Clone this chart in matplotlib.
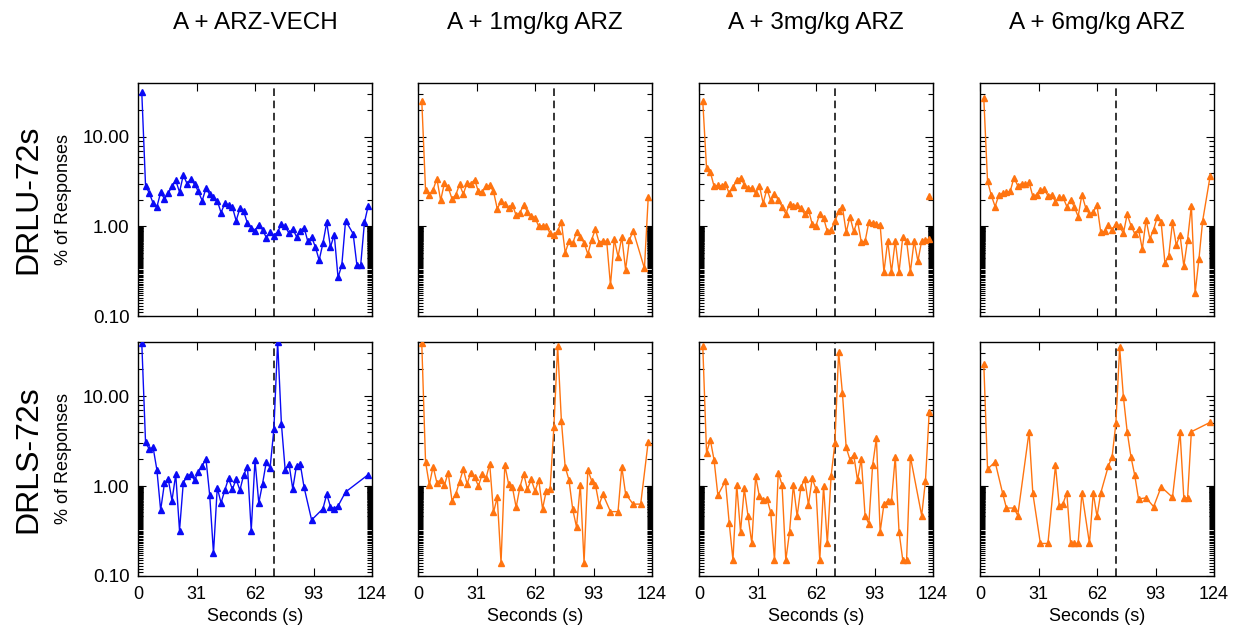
import numpy as np
import matplotlib.pyplot as plt
from matplotlib.ticker import FixedLocator, FormatStrFormatter, NullFormatter

plt.rcParams['font.family'] = ['Liberation Sans', 'DejaVu Sans']

# bins de 2 s
segundos = np.arange(2, 124, 2)

titulos = ["A + ARZ-VECH", "A + 1mg/kg ARZ", "A + 3mg/kg ARZ", "A + 6mg/kg ARZ"]
filas = ["DRLU-72s", "DRLS-72s"]
xticks = [0, 31, 62, 93, 124]
limite = 72

# % de respuestas, DRLU-72s
drlu_vech = [31.6, 2.85, 2.36, 1.82, 1.65, 2.40, 2.04, 2.34, 2.80, 3.27,
             2.42, 3.75, 3.00, 3.39, 2.95, 2.46, 1.94, 2.66, 2.28, 2.13,
             1.94, 1.43, 1.81, 1.75, 1.65, 1.16, 1.59, 1.47, 1.09, 0.97,
             0.90, 1.05, 0.92, 0.75, 0.86, 0.79, 0.87, 1.06, 1.00, 0.84,
             0.94, 0.77, 0.90, 0.97, 0.68, 0.76, 0.59, 0.42, 0.65, 1.11,
             0.59, 0.81, 0.27, 0.37, 1.16, None, 0.83, 0.37, 0.37, 1.11, 1.70]
drlu_1mg = [25.5, 2.53, 2.26, 2.57, 3.42, 1.95, 3.06, 2.73, 2.04, 2.24,
            2.95, 2.30, 3.06, 2.98, 3.33, 2.46, 2.42, 2.80, 2.88, 2.46,
            1.58, 1.90, 1.79, 1.59, 1.75, 1.33, 1.43, 1.73, 1.46, 1.32,
            1.25, 1.00, 1.02, 1.00, 0.84, 0.80, 0.90, 1.11, 0.51, 0.68,
            0.65, 0.86, 0.76, 0.66, 0.49, 0.71, 0.93, 0.66, 0.69, 0.68,
            0.22, 0.72, 0.46, 0.76, 0.33, 0.70, 0.90, None, None, 0.34, 2.11]
drlu_3mg = [24.9, 4.46, 4.06, 2.80, 2.88, 2.85, 3.00, 2.34, 2.76, 3.27,
            3.48, 2.93, 2.66, 2.69, 2.36, 2.85, 1.82, 2.62, 1.95, 2.30,
            1.99, 1.67, 1.39, 1.78, 1.70, 1.73, 1.59, 1.37, 1.54, 1.06,
            1.02, 1.39, 1.25, 0.88, 0.92, 1.14, 1.47, 1.65, 0.86, 1.29,
            0.88, 1.16, 0.67, 0.68, 1.12, 1.09, 1.06, 1.03, 0.31, 0.69,
            0.31, 0.69, 0.31, 0.77, 0.69, 0.31, 0.69, 0.41, 0.69, 0.71, 0.72]
drlu_6mg = [27.3, 3.19, 2.22, 1.67, 2.24, 2.36, 2.40, 2.46, 3.51, 2.85,
            3.00, 2.95, 3.11, 2.17, 2.26, 2.53, 2.64, 2.20, 2.26, 1.89,
            2.11, 2.11, 1.67, 1.99, 1.65, 1.29, 2.26, 1.62, 1.37, 1.45,
            1.73, 0.86, 0.88, 1.05, 0.91, 1.07, 1.00, 0.84, 1.37, 1.02,
            0.83, 0.93, 0.56, 1.19, 0.73, 0.92, 1.29, 1.11, 0.39, 0.47,
            1.11, 0.62, 0.81, 0.36, 0.71, 1.71, 0.18, 0.43, 1.16, None, 3.70]

# % de respuestas, DRLS-72s
drls_vech = [39.2, 3.06, 2.57, 2.69, 1.52, 0.54, 1.07, 1.21, 0.69, 1.35,
             0.32, 1.09, 1.29, 1.35, 1.16, 1.45, 1.67, 2.02, 0.79, 0.18,
             0.96, 0.65, 0.90, 1.22, 0.92, 1.19, 0.90, 1.33, 1.65, 0.32,
             1.94, 0.65, 1.06, 1.87, 1.60, 4.27, 40.2, 4.90, 1.50, 1.78,
             0.93, 1.69, 1.75, 0.97, None, 0.42, None, None, 0.56, 0.81,
             0.59, 0.56, 0.60, None, 0.86, None, None, None, None, None, 1.34]
drls_1mg = [38.5, 1.86, 1.03, 1.65, 1.09, 1.17, 1.02, 1.41, 0.69, 0.81,
            1.12, 1.54, 1.06, 1.41, 1.26, 1.00, 1.35, 1.22, 1.76, 0.51,
            0.75, 0.14, 1.72, 1.06, 0.98, 0.58, 0.97, 1.37, 0.92, 1.19,
            0.88, 1.16, 0.56, 0.89, 0.93, 4.50, 36.0, 5.25, 1.63, 1.17,
            0.55, 0.35, 1.04, 0.14, 1.51, 1.15, 1.04, 0.62, 0.81, None,
            0.52, None, 0.52, 1.63, 0.82, None, 0.63, None, 0.63, None, 3.13]
drls_3mg = [36.0, 2.34, 3.27, 1.94, 0.79, None, 1.14, 0.39, 0.15, 1.03,
            0.31, 0.94, 0.46, 0.23, 1.29, 0.77, 0.70, 0.72, 0.51, 0.15,
            1.41, 1.03, 0.15, 0.31, 1.03, 0.46, 0.97, 1.20, 0.62, 1.22,
            0.92, 0.15, 1.00, 0.23, 1.29, 2.98, 31.1, 10.8, 2.69, 1.97,
            2.22, 1.16, 2.01, 0.47, 0.38, 1.70, 3.42, 0.31, 0.63, 0.68,
            0.68, 2.13, 0.31, 0.15, 0.15, 2.13, None, None, 0.47, 1.14, 6.73]
drls_6mg = [23.0, 1.54, None, 1.86, None, 0.83, 0.57, None, 0.57, 0.47,
            None, None, 4.02, 0.83, None, 0.23, None, 0.23, None, 1.70,
            0.60, 0.64, 0.84, 0.23, 0.23, 0.23, 0.84, None, 0.23, 0.84,
            0.46, 0.84, None, 1.67, 2.11, 4.99, 34.8, 9.75, 4.02, 2.11,
            1.32, 0.72, None, 0.74, None, 0.59, None, 0.98, None, None,
            0.75, None, 4.02, 0.74, 0.74, 4.02, None, None, None, None, 5.12]

# punto suelto al final del panel 3mg/kg DRLU
extra_3mg_x = [122]
extra_3mg_y = [2.19]

datos = [[drlu_vech, drlu_1mg, drlu_3mg, drlu_6mg],
         [drls_vech, drls_1mg, drls_3mg, drls_6mg]]
colores = ["#0a0af5", "#ff7410", "#ff7410", "#ff7410"]

W, H = 1239, 635
fig = plt.figure(figsize=(W / 100, H / 100), dpi=100)

lefts = [138, 418, 699, 980]
ancho = 234
filas_px = [(83, 316), (342, 576)]

# ticks menores: 2..9 en las decadas altas y un peine cada 0.01 entre 0.1 y 1
menores = list(np.arange(0.11, 1.0, 0.01)) + [2, 3, 4, 5, 6, 7, 8, 9, 20, 30]

for r in range(2):
    top, bot = filas_px[r]
    for c in range(4):
        ax = fig.add_axes([lefts[c] / W, 1 - bot / H, ancho / W, (bot - top) / H])
        y = np.array(datos[r][c], dtype=float)
        ok = ~np.isnan(y)
        ax.plot(segundos[ok], y[ok], color=colores[c], lw=1.0, marker="^",
                ms=5, mec=colores[c], mfc=colores[c], zorder=3)
        if r == 0 and c == 2:
            ax.plot(extra_3mg_x, extra_3mg_y, ls="none", marker="^", ms=5,
                    color=colores[c], zorder=3)
        ax.axvline(limite, color="black", lw=1.1, ls=(0, (5, 3)), zorder=2)

        ax.set_yscale("log")
        ax.set_ylim(0.1, 40)
        ax.set_xlim(0, 124)
        ax.yaxis.set_major_locator(FixedLocator([0.1, 1, 10]))
        ax.yaxis.set_minor_locator(FixedLocator(menores))
        ax.yaxis.set_minor_formatter(NullFormatter())
        ax.set_xticks(xticks)
        ax.tick_params(which="both", direction="in", top=True, right=True, width=0.8)
        ax.tick_params(which="major", length=6)
        ax.tick_params(which="minor", length=3.5)
        for s in ax.spines.values():
            s.set_linewidth(1.0)

        if c == 0:
            ax.yaxis.set_major_formatter(FormatStrFormatter("%.2f"))
            ax.tick_params(axis="y", labelsize=13.5, pad=6)
        else:
            ax.set_yticklabels([])
        if r == 1:
            ax.tick_params(axis="x", labelsize=13, pad=7)
            ax.set_xlabel("Seconds (s)", fontsize=13, labelpad=4)
        else:
            ax.set_xticklabels([])

        if r == 0:
            fig.text((lefts[c] + ancho / 2) / W, 1 - 23 / H, titulos[c],
                     ha="center", va="center", fontsize=17.5)

    yc = 1 - (top + bot) / 2 / H
    fig.text(28 / W, yc, filas[r], rotation=90, ha="center", va="center", fontsize=23)
    fig.text(64 / W, yc, "% of Responses", rotation=90, ha="center", va="center", fontsize=13)

fig.savefig("out.png", dpi=100)
